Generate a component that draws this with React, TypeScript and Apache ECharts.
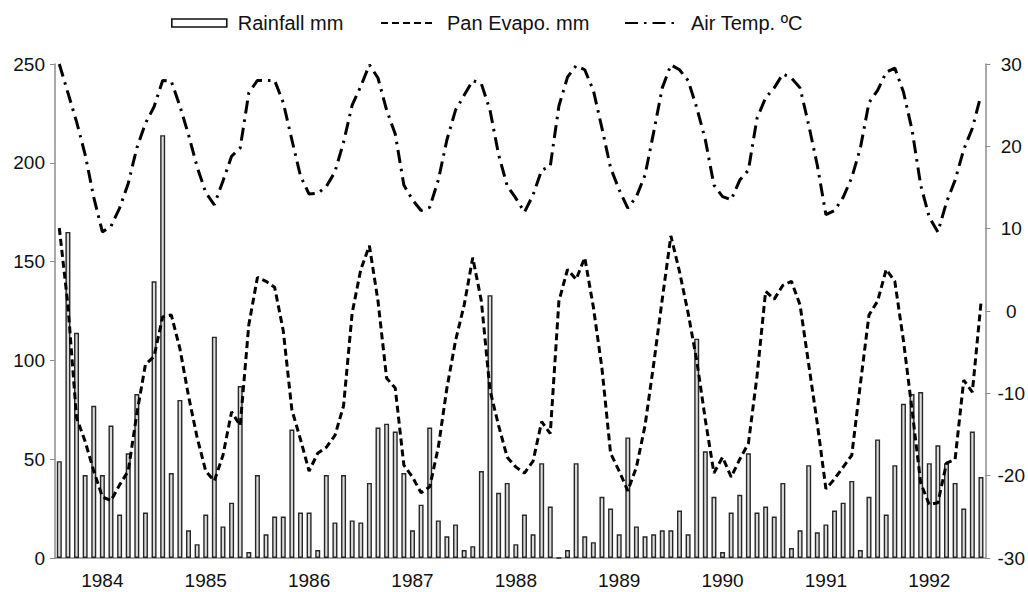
import React, { useEffect, useRef } from "react";
import * as echarts from "echarts";

// Monthly categories: Aug 1983 .. Jul 1992 (108 months)
const months: string[] = [];
for (let i = 0; i < 108; i++) {
  const m = 7 + i;
  const y = 1983 + Math.floor(m / 12);
  const mm = (m % 12) + 1;
  months.push(`${y}-${String(mm).padStart(2, "0")}`);
}

const yearLabels = ["1984", "1985", "1986", "1987", "1988", "1989", "1990", "1991", "1992"];

const rainfall = [
  49, 165, 114, 42, 77, 42, 67, 22, 53, 83, 23, 140,
  214, 43, 80, 14, 7, 22, 112, 16, 28, 87, 3, 42,
  12, 21, 21, 65, 23, 23, 4, 42, 18, 42, 19, 18,
  38, 66, 68, 64, 43, 14, 27, 66, 19, 11, 17, 4,
  6, 44, 133, 33, 38, 7, 22, 12, 48, 26, 0, 4,
  48, 11, 8, 31, 25, 12, 61, 16, 11, 12, 14, 14,
  24, 12, 111, 54, 31, 3, 23, 32, 53, 23, 26, 21,
  38, 5, 14, 47, 13, 17, 24, 28, 39, 4, 31, 60,
  22, 47, 78, 83, 84, 48, 57, 48, 38, 25, 64, 41,
];

const panEvap = [
  167, 128, 71, 59, 44, 31, 29, 37, 44, 73, 98, 102,
  122, 123, 106, 82, 61, 44, 39, 52, 74, 67, 118, 142,
  140, 137, 115, 75, 60, 44, 53, 56, 62, 77, 124, 146,
  158, 130, 91, 86, 47, 41, 33, 36, 56, 86, 110, 128,
  152, 130, 85, 67, 51, 46, 43, 49, 69, 63, 130, 146,
  141, 152, 127, 96, 53, 44, 34, 46, 67, 98, 131, 163,
  145, 124, 100, 70, 43, 51, 41, 50, 58, 92, 135, 131,
  138, 140, 128, 98, 68, 35, 40, 46, 52, 88, 123, 130,
  146, 140, 110, 75, 38, 27, 28, 48, 50, 90, 84, 129,
];

const airTemp = [
  30, 26.5, 23, 19, 13.8, 9.6, 10.3, 12.5, 15.5, 19.8, 22.8, 24.8,
  28, 27.9, 24.9, 21.4, 17.5, 14.4, 12.9, 15.8, 18.8, 19.8, 26.5, 28,
  28, 28, 25.3, 20.8, 16.4, 14.2, 14.3, 15.1, 16.9, 20.5, 25, 27.3,
  29.9, 28.3, 24.4, 21.5, 15.3, 13.5, 12.2, 12.6, 15.9, 20.8, 24.4, 26.2,
  28, 27.6, 24.4, 19, 15.2, 13.7, 12, 14.1, 17.1, 17.6, 24.9, 28.4,
  29.8, 29.3, 26.8, 22.2, 17.4, 14.7, 12.5, 13.9, 16.5, 21.7, 27.1, 29.9,
  29.3, 28, 24.7, 20.8, 15.3, 13.9, 13.5, 15.9, 17.1, 23.4, 25.9, 27.1,
  28.8, 28.3, 27.1, 22.6, 17.7, 11.7, 12.2, 13.8, 16.2, 19.8, 25.3, 26.8,
  29, 29.5, 26.6, 22, 15.3, 11.4, 9.6, 13.2, 15.9, 19.6, 22.2, 26.2,
];

const FONT = "'Liberation Sans', Arial, sans-serif";
const AXIS_GRAY = "#8c8c8c";
const TEXT = "#111";

const legendBase = {
  top: 8,
  itemWidth: 55,
  itemHeight: 8,
  textStyle: { fontSize: 20, color: TEXT, fontFamily: FONT, padding: [0, 0, 0, 6] },
};

export default function App() {
  const ref = useRef<HTMLDivElement>(null);
  useEffect(() => {
    if (!ref.current) return;
    const chart = echarts.init(ref.current, null, { renderer: "svg" });
    chart.setOption({
      animation: false,
      backgroundColor: "#ffffff",
      textStyle: { fontFamily: FONT },
      legend: [
        {
          ...legendBase,
          left: 166,
          data: [
            {
              name: "Rainfall mm",
              icon: "rect",
              itemStyle: { color: "#ffffff", borderColor: "#111", borderWidth: 1.6 },
            },
          ],
        },
        { ...legendBase, left: 375, data: [{ name: "Pan Evapo. mm", itemStyle: { opacity: 0 } }] },
        { ...legendBase, left: 619, data: [{ name: "Air Temp. ºC", itemStyle: { opacity: 0 } }] },
      ],
      grid: { left: 55, right: 41, top: 64, bottom: 34, containLabel: false },
      xAxis: {
        type: "category",
        data: months,
        boundaryGap: true,
        axisLine: { lineStyle: { color: AXIS_GRAY, width: 1.5 } },
        axisTick: { interval: 0, length: 5, lineStyle: { color: AXIS_GRAY } },
        axisLabel: {
          interval: (index: number) => (index - 5) % 12 === 0,
          formatter: (v: string) => {
            const y = v.slice(0, 4);
            return yearLabels.includes(y) ? y : "";
          },
          fontSize: 19,
          color: TEXT,
          margin: 13,
          fontFamily: FONT,
        },
        splitLine: { show: false },
      },
      yAxis: [
        {
          type: "value",
          min: 0,
          max: 250,
          interval: 50,
          axisLine: { show: true, lineStyle: { color: AXIS_GRAY, width: 1.5 } },
          axisTick: { show: true, length: 5, lineStyle: { color: AXIS_GRAY } },
          axisLabel: { fontSize: 19, color: TEXT, margin: 10, fontFamily: FONT },
          splitLine: { show: false },
        },
        {
          type: "value",
          min: -30,
          max: 30,
          interval: 10,
          position: "right",
          axisLine: { show: true, lineStyle: { color: AXIS_GRAY, width: 1.5 } },
          axisTick: { show: true, length: 5, lineStyle: { color: AXIS_GRAY } },
          axisLabel: { fontSize: 19, color: TEXT, margin: 26, align: "center", fontFamily: FONT },
          splitLine: { show: false },
        },
      ],
      series: [
        {
          name: "Rainfall mm",
          type: "bar",
          data: rainfall,
          barWidth: 5,
          itemStyle: { color: "#dadada", borderColor: "#262626", borderWidth: 1.4 },
        },
        {
          name: "Pan Evapo. mm",
          type: "line",
          data: panEvap,
          symbol: "none",
          lineStyle: { color: "#000", width: 3, type: [7, 4] },
        },
        {
          name: "Air Temp. ºC",
          type: "line",
          yAxisIndex: 1,
          data: airTemp,
          symbol: "none",
          lineStyle: { color: "#000", width: 3, type: [13, 6, 2.5, 6] },
        },
      ],
    });
    return () => chart.dispose();
  }, []);
  return (
    <div
      ref={ref}
      style={{ position: "fixed", left: 0, top: 0, width: 1028, height: 592, background: "#fff" }}
    />
  );
}
